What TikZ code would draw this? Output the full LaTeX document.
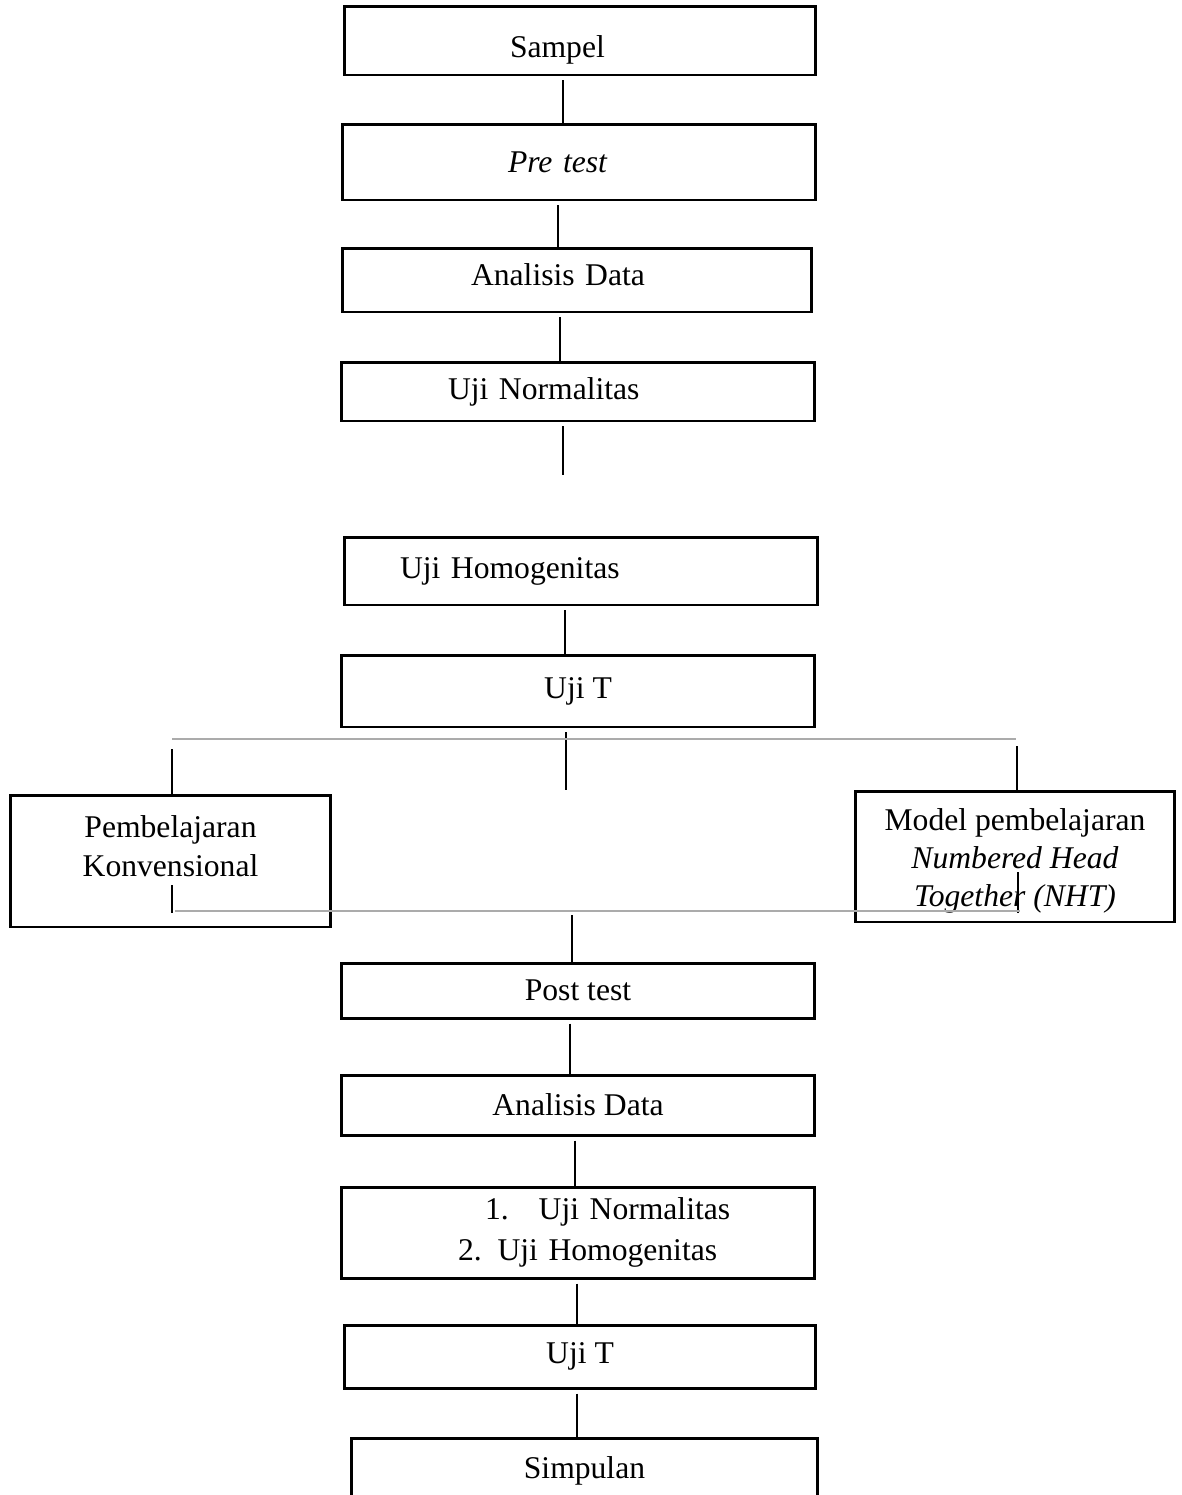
\documentclass[tikz,border=0pt]{standalone}
\usepackage{fontspec}
\setmainfont{Liberation Serif}
\usetikzlibrary{calc}
\renewcommand{\arraystretch}{0.95}

\begin{document}
\begin{tikzpicture}[x=0.02cm, y=-0.02cm,
    box/.style={draw, line width=1.7pt, align=center, inner sep=0pt,
      font=\fontsize{18}{23}\selectfont},
    link/.style={line width=0.7pt, shorten <=0.08cm},
    rail/.style={black!33, line width=1.3pt}]
  \useasboundingbox (0,0) rectangle (1181,1495);

  % upper column
  \node[box, minimum width=9.44cm, minimum height=1.38cm, text width=9.44cm, align=left, text height=0.82cm] (sampel) at (580,40.5) {\hspace*{3.32cm}Sampel};
  \node[box, minimum width=9.48cm, minimum height=1.52cm, text width=9.48cm, align=left] (pretest) at (579,162) {\hspace*{3.32cm}\textit{Pre test}};
  \node[box, minimum width=9.40cm, minimum height=1.28cm, text width=9.40cm, align=left, text depth=0.2cm] (analisisA) at (577,280) {\hspace*{2.58cm}Analisis Data};
  \node[box, minimum width=9.48cm, minimum height=1.18cm, text width=9.48cm, align=left] (normalA) at (578,391.5) {\hspace*{2.14cm}Uji Normalitas};
  \node[box, minimum width=9.48cm, minimum height=1.36cm, text width=9.48cm, align=left] (homogenA) at (581,571) {\hspace*{1.12cm}Uji Homogenitas};
  \node[box, minimum width=9.48cm, minimum height=1.44cm] (ujitA) at (578,691) {Uji T};

  % the two classes
  \node[box, minimum width=6.42cm, minimum height=2.64cm] (konv) at (170.5,861)
    {\raisebox{0.08cm}[0pt][0pt]{\begin{tabular}{@{}c@{}}Pembelajaran\\Konvensional\end{tabular}}};
  \node[box, minimum width=6.40cm, minimum height=2.62cm] (nht) at (1015,856.5)
    {\raisebox{-0.24cm}[0pt][0pt]{\begin{tabular}{@{}c@{}}Model pembelajaran\\\textit{Numbered Head}\\\textit{Together (NHT)}\end{tabular}}};

  % lower column
  \node[box, minimum width=9.48cm, minimum height=1.10cm] (post) at (578,990.5) {Post test};
  \node[box, minimum width=9.48cm, minimum height=1.20cm] (analisisB) at (578,1105) {Analisis Data};
  \node[box, minimum width=9.48cm, minimum height=1.82cm, text width=9.48cm, align=left] (ujilist) at (578,1232.5)
    {\hspace*{2.88cm}1.\hspace{0.6cm}Uji Normalitas\\\hspace*{2.34cm}2. Uji Homogenitas};
  \node[box, minimum width=9.44cm, minimum height=1.26cm] (ujitB) at (580,1356.5) {Uji T};
  \node[box, minimum width=9.34cm, minimum height=1.28cm, anchor=north] (simpulan) at (584.5,1437) {Simpulan};

  \coordinate (gap) at (563,475);
  \coordinate (split) at (566,790);
  \coordinate (tl) at (172,739);
  \coordinate (tr) at (1016,739);
  \coordinate (bl) at (175,911);
  \coordinate (br) at (1020,911);

  \draw[link] (sampel.south -| 563,0) -- (pretest.north -| 563,0);
  \draw[link] (pretest.south -| 558,0) -- (analisisA.north -| 558,0);
  \draw[link] (analisisA.south -| 560,0) -- (normalA.north -| 560,0);
  \draw[link] (normalA.south -| gap) -- (gap);
  \draw[link] (homogenA.south -| 565,0) -- (ujitA.north -| 565,0);
  \draw[link] (ujitA.south -| split) -- (split);

  % branching rails
  \draw[rail] (tl) -- (tr);
  \draw[link] (tl) ++(0,6) -- (konv.north -| tl);
  \draw[link] (tr) ++(1,3) -- (nht.north -| 1017,0);
  \draw[link] (konv.south -| tl) ++(0,-47) -- ++(0,32);
  \draw[link] (nht.south -| 1018,0) ++(0,-55) -- ++(0,45);
  \draw[rail] (bl) -- (br);
  \draw[link] (bl -| 572,0) -- (post.north -| 572,0);

  \draw[link] (post.south -| 570,0) -- (analisisB.north -| 570,0);
  \draw[link] (analisisB.south -| 575,0) -- (ujilist.north -| 575,0);
  \draw[link] (ujilist.south -| 577,0) -- (ujitB.north -| 577,0);
  \draw[link] (ujitB.south -| 577,0) -- (simpulan.north -| 577,0);

\end{tikzpicture}
\end{document}
